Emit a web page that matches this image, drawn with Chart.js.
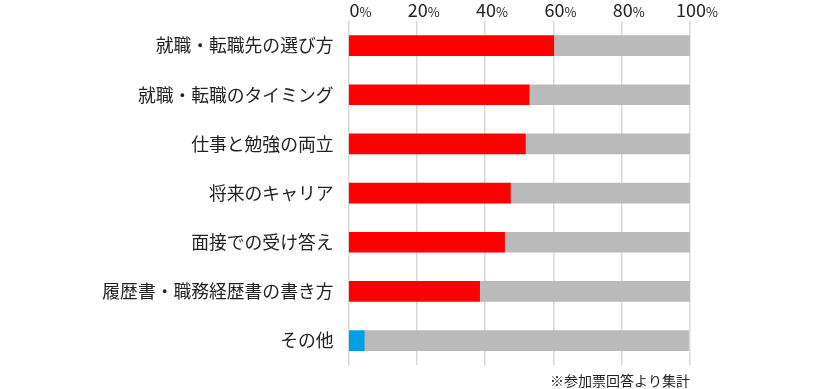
<!DOCTYPE html>
<html>
<head>
<meta charset="utf-8">
<script src="https://cdn.jsdelivr.net/npm/chart.js@4/dist/chart.umd.min.js"></script>
<style>
	html, body { margin: 0; padding: 0; background: #fff; }
	#wrap { width: 820px; height: 389px; position: relative; }
</style>
</head>
<body>
<div id="wrap"><canvas id="barChart"></canvas></div>
<script>
const labels = [
	"就職・転職先の選び方",
	"就職・転職のタイミング",
	"仕事と勉強の両立",
	"将来のキャリア",
	"面接での受け答え",
	"履歴書・職務経歴書の書き方",
	"その他",
];
const redValues = [60.1, 52.9, 51.8, 47.4, 45.7, 38.4, null];
const blueValues = [null, null, null, null, null, null, 4.6];
const grayValues = [39.9, 47.1, 48.2, 52.6, 54.3, 61.6, 95.0];
const xTicks = [0, 20, 40, 60, 80, 100];
const note = "※参加票回答より集計";

const fontFamily = "'Noto Sans CJK JP', 'Noto Sans', sans-serif";

// 上の目盛り: 数字と % を別サイズで描く
const topTicks = {
	id: "topTicks",
	afterDraw(chart) {
		const { ctx, scales } = chart;
		const x = scales.x;
		ctx.save();
		ctx.fillStyle = "#222";
		ctx.textBaseline = "alphabetic";
		ctx.textAlign = "left";
		xTicks.forEach((v) => {
			const px = x.getPixelForValue(v);
			const num = String(v);
			ctx.font = "18px " + fontFamily;
			const wNum = ctx.measureText(num).width;
			const left = v === 0 ? px + 1 : px - wNum / 2 + 1;
			ctx.fillText(num, left, 17);
			ctx.font = "13px " + fontFamily;
			ctx.fillText("%", left + wNum, 17);
		});
		ctx.restore();
	},
};

const ctx = document.getElementById("barChart").getContext("2d");
new Chart(ctx, {
	type: "bar",
	data: {
		labels,
		datasets: [
			{ data: redValues, backgroundColor: "#ff0000" },
			{ data: blueValues, backgroundColor: "#00a0e9" },
			{ data: grayValues, backgroundColor: "#bababa" },
		],
	},
	options: {
		indexAxis: "y",
		responsive: true,
		maintainAspectRatio: false,
		animation: false,
		layout: { padding: { left: 0, right: 130, top: 0, bottom: 0 } },
		datasets: {
			bar: { barThickness: 20, borderWidth: 0 },
		},
		plugins: {
			legend: { display: false },
			tooltip: { enabled: false },
			title: {
				display: true,
				text: note,
				position: "bottom",
				align: "end",
				color: "#222",
				font: { family: fontFamily, size: 14, weight: "normal", lineHeight: 1.2 },
				padding: { top: 7, bottom: 0 },
			},
		},
		scales: {
			x: {
				position: "top",
				stacked: true,
				min: 0,
				max: 100,
				afterBuildTicks: (scale) => {
					scale.ticks = xTicks.map((v) => ({ value: v }));
				},
				afterFit: (scale) => {
					scale.height = 21;
				},
				ticks: { display: false },
				grid: { color: "#d9d9d9", lineWidth: 1.5, drawTicks: false },
				border: { display: false },
			},
			y: {
				stacked: true,
				afterFit: (scale) => {
					scale.width = 348.5;
					scale.paddingTop = 0;
					scale.paddingBottom = 0;
				},
				ticks: {
					color: "#222",
					padding: 15,
					font: { family: fontFamily, size: 17.8 },
				},
				grid: { display: false, drawTicks: false },
				border: { display: false },
			},
		},
	},
	plugins: [topTicks],
});
</script>
</body>
</html>
